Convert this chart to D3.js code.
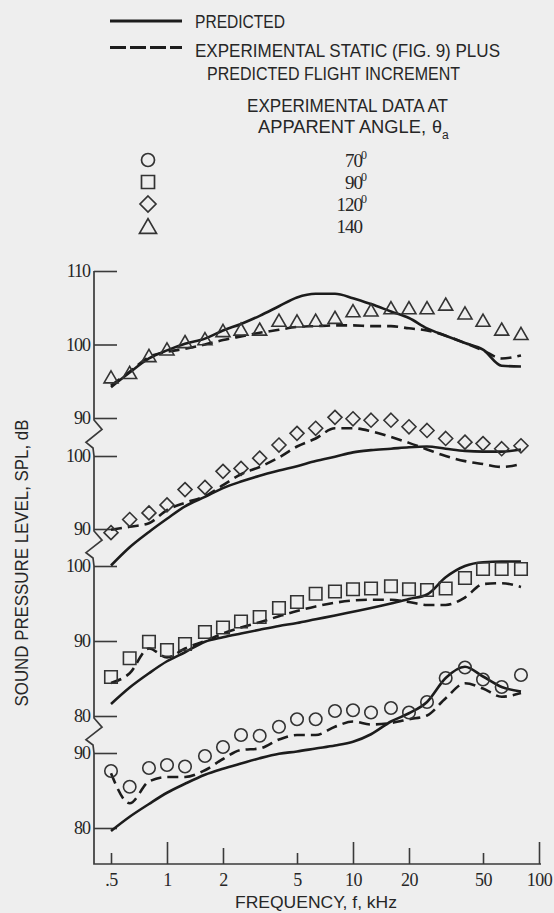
<!DOCTYPE html>
<html>
<head>
<meta charset="utf-8">
<script src="https://cdn.jsdelivr.net/npm/d3@7"></script>
<style>
  html, body { margin: 0; padding: 0; background: #eeeeee; }
  svg { display: block; }
  .lbl { font-family: "Liberation Sans", Arial, sans-serif; fill: #262626; }
  .num { font-family: "Liberation Serif", "Times New Roman", serif; fill: #262626; }
</style>
</head>
<body>
<svg id="chart" width="554" height="913"></svg>
<script>
// ---------------- DATA ----------------
const freqs = [0.5, 0.63, 0.8, 1, 1.25, 1.6, 2, 2.5, 3.15, 4, 5, 6.3, 8, 10, 12.5, 16, 20, 25, 31.5, 40, 50, 63, 80];

// apparent angle 140 deg (triangles)
const exp140  = [95.6, 96.2, 98.5, 99.4, 100.4, 100.8, 101.9, 102.1, 102.1, 103.3, 103.2, 103.3, 103.7, 104.6, 104.7, 105.0, 105.0, 105.0, 105.5, 104.3, 103.3, 102.1, 101.5];
const pred140 = [94.2, 96.2, 98.1, 99.2, 100.1, 100.8, 101.9, 102.8, 103.9, 105.2, 106.4, 106.9, 106.9, 106.3, 105.5, 104.5, 103.6, 102.2, 101.2, 100.2, 99.3, 97.1, 97.0];
const stat140 = [94.4, 96.3, 98.3, 99.0, 99.4, 100.0, 100.6, 101.1, 101.6, 102.0, 102.4, 102.5, 102.6, 102.6, 102.5, 102.5, 102.2, 101.9, 101.2, 100.2, 99.2, 98.1, 98.5];

// apparent angle 120 deg (diamonds)
const exp120  = [89.5, 91.3, 92.2, 93.3, 95.4, 95.7, 97.9, 98.3, 99.7, 101.5, 103.1, 103.8, 105.3, 105.1, 104.9, 104.9, 104.0, 103.5, 102.4, 101.9, 101.7, 101.0, 101.4];
const pred120 = [85.0, 87.5, 89.6, 91.4, 93.1, 94.4, 95.6, 96.5, 97.3, 98.0, 98.6, 99.3, 99.9, 100.5, 100.8, 101.0, 101.2, 101.3, 101.0, 100.7, 100.6, 100.6, 100.9];
const stat120 = [89.9, 90.3, 90.8, 92.6, 93.6, 94.5, 96.0, 97.5, 98.5, 99.8, 101.3, 102.4, 103.8, 103.8, 103.4, 102.6, 101.8, 100.9, 100.0, 99.3, 98.9, 98.5, 98.9];

// apparent angle 90 deg (squares)
const exp90  = [85.2, 87.7, 89.9, 88.8, 89.6, 91.2, 91.8, 92.6, 93.2, 94.4, 95.2, 96.3, 96.6, 96.9, 97.0, 97.3, 96.9, 96.8, 97.0, 98.4, 99.6, 99.6, 99.6];
const pred90 = [81.6, 83.8, 85.7, 87.3, 88.5, 89.9, 90.5, 91.0, 91.5, 92.0, 92.4, 92.9, 93.4, 93.9, 94.4, 95.0, 95.6, 96.2, 98.5, 100.0, 100.5, 100.6, 100.6];
const stat90 = [84.4, 85.7, 89.0, 87.8, 89.0, 90.0, 91.0, 91.8, 92.5, 93.3, 94.0, 94.6, 95.1, 95.4, 95.5, 95.5, 95.2, 94.8, 94.8, 95.8, 97.6, 97.7, 97.2];

// apparent angle 70 deg (circles)
const exp70  = [87.6, 85.5, 88.0, 88.4, 88.2, 89.6, 90.8, 92.4, 92.3, 93.5, 94.5, 94.5, 95.6, 95.7, 95.4, 96.0, 95.4, 96.8, 100.0, 101.4, 99.8, 98.8, 100.4];
const pred70 = [79.6, 81.5, 83.2, 84.7, 85.9, 87.1, 87.9, 88.6, 89.3, 89.9, 90.2, 90.6, 91.0, 91.5, 92.5, 94.2, 95.3, 96.8, 100.0, 101.5, 100.2, 98.8, 98.2];
const stat70 = [87.3, 83.3, 86.2, 86.8, 86.8, 87.7, 89.2, 90.4, 90.6, 91.8, 92.4, 92.4, 93.5, 94.2, 93.8, 94.0, 94.5, 95.0, 97.3, 99.3, 98.6, 97.5, 98.0];

// tick values / labels
const yTicks140 = [90, 100, 110];
const yTicks120 = [90, 100];
const yTicks90  = [80, 90, 100];
const yTicks70  = [80, 90];
const xTicks = [0.5, 1, 2, 5, 10, 20, 50, 100];
const xTickLabels = [".5", "1", "2", "5", "10", "20", "50", "100"];

const legendAngles = ["70", "90", "120", "140"];
const legendDegree = [true, true, true, false];
const legendSymbols = ["circle", "square", "diamond", "triangle"];

// ---------------- LAYOUT ----------------
const svg = d3.select("#chart");
const INK = "#1c1c1c";
svg.append("rect").attr("width", 554).attr("height", 913).attr("fill", "#eeeeee");

const AX = 94;          // y axis x position
const XAXIS_Y = 864;    // x axis y position
const x = d3.scaleLog().domain([0.5, 100]).range([111, 539]);

const panels = [
  { exp: exp140, pred: pred140, stat: stat140, sym: "triangle", ticks: yTicks140, y: d3.scaleLinear().domain([90, 110]).range([418, 271]) },
  { exp: exp120, pred: pred120, stat: stat120, sym: "diamond",  ticks: yTicks120, y: d3.scaleLinear().domain([90, 100]).range([529, 456]) },
  { exp: exp90,  pred: pred90,  stat: stat90,  sym: "square",   ticks: yTicks90,  y: d3.scaleLinear().domain([80, 100]).range([716, 566]) },
  { exp: exp70,  pred: pred70,  stat: stat70,  sym: "circle",   ticks: yTicks70,  y: d3.scaleLinear().domain([80, 90]).range([828, 753]) }
];

function symbolPath(type, s) {
  if (type === "circle") return d3.symbol(d3.symbolCircle, Math.PI * (s / 2) * (s / 2))();
  if (type === "square") return d3.symbol(d3.symbolSquare, s * s)();
  if (type === "diamond") { const r = s / 2; return `M0,${-r}L${r},0L0,${r}L${-r},0Z`; }
  if (type === "triangle") return d3.symbol(d3.symbolTriangle, s * s * Math.sqrt(3) / 4)();
}
function symbolDy(type, s) { return type === "triangle" ? s * Math.sqrt(3) / 2 / 6 : 0; }
const symSize = { circle: 12.5, square: 12.5, diamond: 14, triangle: 14 };

// ---- axis line with breaks ----
const axisPts = [[AX, panels[0].y(110)]];
for (let i = 0; i < panels.length - 1; i++) {
  const yA = panels[i].y(d3.min(panels[i].ticks));
  const yB = panels[i + 1].y(d3.max(panels[i + 1].ticks));
  const g = yB - yA;
  axisPts.push([AX, yA + 2], [AX + 8, yA + 0.3 * g], [AX - 8, yA + 0.64 * g], [AX - 1, yB - 8], [AX, yB]);
}
axisPts.push([AX, XAXIS_Y], [541, XAXIS_Y]);
svg.append("path")
  .attr("d", d3.line()(axisPts))
  .attr("fill", "none").attr("stroke", "#3a3a3a").attr("stroke-width", 1.7).attr("stroke-linejoin", "miter");

// ---- y axes per panel ----
panels.forEach(p => {
  const g = svg.append("g").attr("transform", `translate(${AX},0)`)
    .call(d3.axisLeft(p.y).tickValues(p.ticks).tickSize(-23).tickPadding(4).tickFormat(d3.format("d")));
  g.select(".domain").remove();
  g.selectAll(".tick line").attr("stroke", "#3a3a3a").attr("stroke-width", 1.6);
  g.selectAll(".tick text").attr("class", "num").attr("font-size", 18).attr("fill", "#262626")
    .attr("font-family", "'Liberation Serif', serif").attr("letter-spacing", -1);
});

// ---- x axis ----
function tickLen(v) {
  const m = v / Math.pow(10, Math.floor(Math.log10(v) + 1e-9));
  if (Math.abs(m - 1) < 1e-6) return 22;
  if (Math.abs(m - 2) < 1e-6) return 16;
  return 11;
}
const gx = svg.append("g").attr("transform", `translate(0,${XAXIS_Y})`)
  .call(d3.axisBottom(x).tickValues(xTicks).tickSizeInner(0).tickSizeOuter(0).tickPadding(8)
    .tickFormat((d, i) => xTickLabels[i]));
gx.select(".domain").remove();
gx.selectAll(".tick line").attr("y2", d => -tickLen(d)).attr("stroke", "#3a3a3a").attr("stroke-width", 1.6);
gx.selectAll(".tick text").attr("font-size", 18).attr("fill", "#262626")
  .attr("font-family", "'Liberation Serif', serif").attr("dy", "0.8em").attr("letter-spacing", -0.5);

// ---- lines & markers ----
const rows = freqs.map((f, i) => i);
panels.forEach(p => {
  const line = arr => d3.line().x(i => x(freqs[i])).y(i => p.y(arr[i])).curve(d3.curveMonotoneX)(rows);
  svg.append("path").attr("d", line(p.stat)).attr("fill", "none").attr("stroke", INK)
    .attr("stroke-width", 2.6).attr("stroke-dasharray", "11,6");
  svg.append("path").attr("d", line(p.pred)).attr("fill", "none").attr("stroke", INK)
    .attr("stroke-width", 2.6);
  const s = symSize[p.sym];
  svg.append("g").selectAll("path").data(rows).join("path")
    .attr("d", symbolPath(p.sym, s))
    .attr("transform", i => `translate(${x(freqs[i])},${p.y(p.exp[i]) + symbolDy(p.sym, s)})`)
    .attr("fill", "none").attr("stroke", "#333").attr("stroke-width", 1.6);
});

// ---- axis titles ----
svg.append("text").attr("class", "lbl")
  .attr("transform", "translate(28,563) rotate(-90)")
  .attr("text-anchor", "middle").attr("font-size", 18)
  .attr("textLength", 287).attr("lengthAdjust", "spacingAndGlyphs")
  .text("SOUND PRESSURE LEVEL, SPL, dB");
svg.append("text").attr("class", "lbl")
  .attr("x", 235).attr("y", 908).attr("font-size", 16)
  .attr("textLength", 162).attr("lengthAdjust", "spacingAndGlyphs")
  .text("FREQUENCY, f, kHz");

// ---- legend ----
svg.append("line").attr("x1", 110).attr("x2", 182).attr("y1", 21).attr("y2", 21)
  .attr("stroke", INK).attr("stroke-width", 3);
svg.append("line").attr("x1", 110).attr("x2", 182).attr("y1", 47.5).attr("y2", 47.5)
  .attr("stroke", INK).attr("stroke-width", 3).attr("stroke-dasharray", "16,4");

const legText = [
  { t: "PREDICTED", x: 195, y: 28, w: 90 },
  { t: "EXPERIMENTAL STATIC (FIG. 9) PLUS", x: 195, y: 57, w: 305 },
  { t: "PREDICTED FLIGHT INCREMENT", x: 207, y: 80, w: 253 },
  { t: "EXPERIMENTAL DATA AT", x: 247, y: 112, w: 201 }
];
legText.forEach(d => {
  svg.append("text").attr("class", "lbl").attr("x", d.x).attr("y", d.y).attr("font-size", 18)
    .attr("textLength", d.w).attr("lengthAdjust", "spacingAndGlyphs").text(d.t);
});
svg.append("text").attr("class", "lbl").attr("x", 258).attr("y", 133).attr("font-size", 18)
  .attr("textLength", 168).attr("lengthAdjust", "spacingAndGlyphs").text("APPARENT ANGLE,");
const th = svg.append("text").attr("class", "lbl").attr("x", 432).attr("y", 133).attr("font-size", 18);
th.append("tspan").text("θ");
th.append("tspan").attr("font-size", 12).attr("dy", 6).text("a");

const legSymY = [160, 182, 204, 226];
const legBase = [167, 189, 211, 233];
legendSymbols.forEach((t, i) => {
  const s = t === "triangle" ? 17 : (t === "diamond" ? 16 : 13);
  svg.append("path").attr("d", symbolPath(t, s))
    .attr("transform", `translate(148,${legSymY[i] + symbolDy(t, s)})`)
    .attr("fill", "none").attr("stroke", "#333").attr("stroke-width", 1.7);
  svg.append("text").attr("class", "num").attr("x", 362).attr("y", legBase[i])
    .attr("font-size", 19).attr("text-anchor", "end").attr("letter-spacing", -1).text(legendAngles[i]);
  if (legendDegree[i]) {
    svg.append("text").attr("class", "num").attr("x", 361).attr("y", legBase[i] - 8)
      .attr("font-size", 12).text("0");
  }
});
</script>
</body>
</html>
